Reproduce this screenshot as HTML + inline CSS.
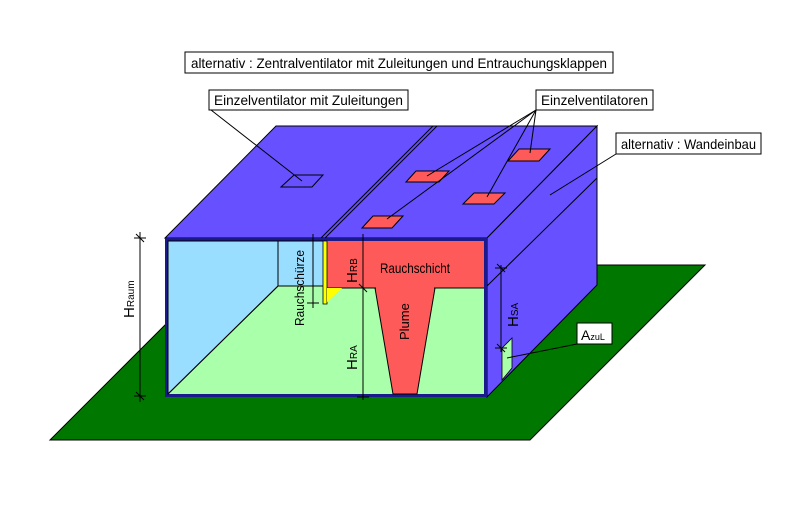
<!DOCTYPE html>
<html><head><meta charset="utf-8"><style>
html,body{margin:0;padding:0;background:#fff;}
svg{display:block;}
text{font-family:"Liberation Sans",sans-serif;fill:#000;}
</style></head><body>
<svg width="787" height="506" viewBox="0 0 787 506" xmlns="http://www.w3.org/2000/svg">
<!-- ground -->
<polygon points="50,440 530,440 705,265 225,265" fill="#007800" stroke="#000" stroke-width="1"/>
<!-- top face -->
<polygon points="165,238 487,238 597,126 276,126" fill="#6650ff" stroke="#000" stroke-width="1"/>
<!-- right face -->
<polygon points="487,238 597,126 597,285 487,397" fill="#6650ff" stroke="#000" stroke-width="1"/>
<!-- seams -->
<line x1="437" y1="126" x2="325" y2="238" stroke="#000"/>
<line x1="433" y1="126" x2="321" y2="238" stroke="#000"/>
<line x1="597" y1="178" x2="487" y2="286" stroke="#000"/>
<!-- front frame -->
<rect x="165" y="238" width="322" height="159" fill="#1a1a8c"/>
<!-- interior -->
<polygon points="168,241 484,241 484,394 168,394" fill="#aaffaa"/>
<polygon points="168,241 278,241 278,286 168,394" fill="#99ddff" stroke="#000" stroke-width="1"/>
<rect x="278" y="241" width="47" height="45" fill="#99ddff" stroke="#000" stroke-width="1"/>
<line x1="278" y1="286" x2="484" y2="286" stroke="#000"/>
<rect x="325" y="241" width="159" height="47" fill="#ff5a5a"/>
<line x1="325" y1="288" x2="484" y2="288" stroke="#000"/>
<polygon points="375,288 435,288 417,394 393,394" fill="#ff5a5a" stroke="#000" stroke-width="1"/>
<line x1="376" y1="288.5" x2="434" y2="288.5" stroke="#ff5a5a" stroke-width="2"/>
<polygon points="323,241 327,241 327,304 323,304" fill="#ffff00" stroke="#000" stroke-width="0.8"/>
<polygon points="327,288 342,288 327,302" fill="#ffff00"/>
<line x1="168" y1="394" x2="278" y2="286" stroke="#000"/>
<!-- vents -->
<polygon points="281,187 294,175 323,175 312,187" fill="none" stroke="#000"/>
<polygon points="406,182 416,171 449,171 439,182" fill="#ff5a5a" stroke="#000"/>
<polygon points="362,228 373,216 403,216 392,228" fill="#ff5a5a" stroke="#000"/>
<polygon points="463,204 474,193 505,193 494,204" fill="#ff5a5a" stroke="#000"/>
<polygon points="508,161 519,149 550,149 539,161" fill="#ff5a5a" stroke="#000"/>
<!-- A zul opening -->
<polygon points="502,348 512,338 512,368 502,380" fill="#aaffaa" stroke="#000" stroke-width="0.8"/>
<!-- leaders -->
<g stroke="#000" stroke-width="1" fill="none">
<line x1="211" y1="110" x2="302" y2="181"/>
<line x1="536" y1="110" x2="427" y2="176"/>
<line x1="536" y1="110" x2="387" y2="219"/>
<line x1="536" y1="110" x2="487" y2="197"/>
<line x1="536" y1="110" x2="530" y2="153"/>
<line x1="616" y1="154" x2="550" y2="195"/>
<line x1="577" y1="344" x2="507" y2="358"/>
<!-- dimension lines -->
<line x1="140" y1="232" x2="140" y2="402"/>
<line x1="134" y1="238" x2="146" y2="238"/><line x1="136" y1="234" x2="144" y2="242"/>
<line x1="134" y1="396" x2="146" y2="396"/><line x1="136" y1="392" x2="144" y2="400"/>
<line x1="363" y1="234" x2="363" y2="400"/>
<line x1="357" y1="288" x2="369" y2="288"/><line x1="359" y1="284" x2="367" y2="292"/>
<line x1="357" y1="397" x2="369" y2="397"/>
<line x1="313" y1="234" x2="313" y2="308"/>
<line x1="307" y1="241" x2="319" y2="241"/><line x1="307" y1="303" x2="319" y2="303"/>
<line x1="501" y1="265" x2="501" y2="352"/>
<line x1="495" y1="268" x2="507" y2="268"/><line x1="497" y1="264" x2="505" y2="272"/>
<line x1="495" y1="348" x2="507" y2="348"/><line x1="497" y1="344" x2="505" y2="352"/>
</g>
<!-- label boxes -->
<rect x="185" y="52" width="428" height="21" fill="#fff" stroke="#000"/>
<text x="191" y="68" font-size="14" textLength="416" lengthAdjust="spacingAndGlyphs">alternativ : Zentralventilator mit Zuleitungen und Entrauchungsklappen</text>
<rect x="209" y="90" width="199" height="20" fill="#fff" stroke="#000"/>
<text x="214" y="105" font-size="14" textLength="189" lengthAdjust="spacingAndGlyphs">Einzelventilator mit Zuleitungen</text>
<rect x="536" y="90" width="117" height="20" fill="#fff" stroke="#000"/>
<text x="541" y="105" font-size="14" textLength="107" lengthAdjust="spacingAndGlyphs">Einzelventilatoren</text>
<rect x="616" y="133" width="145" height="21" fill="#fff" stroke="#000"/>
<text x="621" y="149" font-size="14" textLength="135" lengthAdjust="spacingAndGlyphs">alternativ : Wandeinbau</text>
<rect x="577" y="323" width="35" height="21" fill="#fff" stroke="#000"/>
<text x="581" y="340" font-size="14">A<tspan font-size="9">zuL</tspan></text>
<text x="380" y="273" font-size="14" textLength="70" lengthAdjust="spacingAndGlyphs">Rauchschicht</text>
<!-- rotated labels -->
<text transform="translate(134,318) rotate(-90)" font-size="15">H<tspan font-size="10">Raum</tspan></text>
<text transform="translate(357,283) rotate(-90)" font-size="15">H<tspan font-size="10">RB</tspan></text>
<text transform="translate(357,370) rotate(-90)" font-size="15">H<tspan font-size="10">RA</tspan></text>
<text transform="translate(304,326) rotate(-90)" font-size="13" textLength="76" lengthAdjust="spacingAndGlyphs">Rauchschürze</text>
<text transform="translate(409,340) rotate(-90)" font-size="13">Plume</text>
<text transform="translate(518,327) rotate(-90)" font-size="15">H<tspan font-size="10">SA</tspan></text>
</svg>
</body></html>
